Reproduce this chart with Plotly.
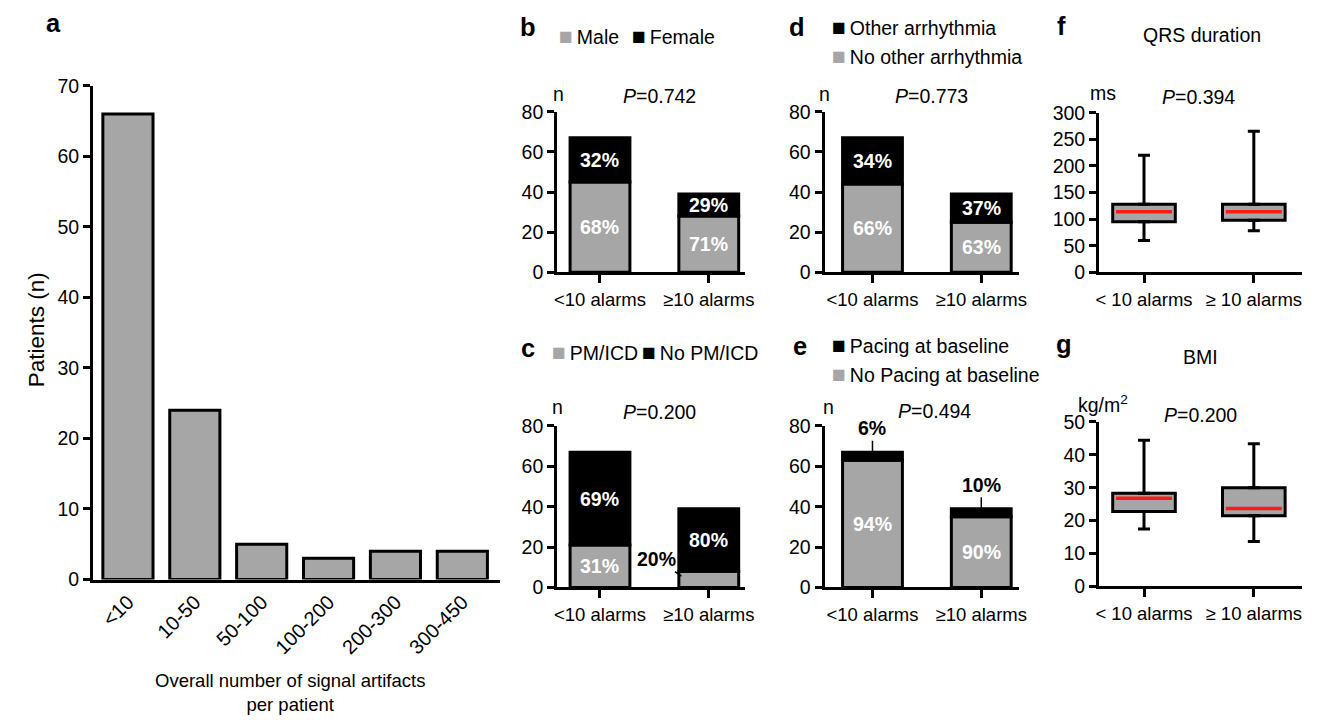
import plotly.graph_objects as go

W, H = 1320, 720
GRAY = '#a6a6a6'
RED = '#ff1a1a'
FONT = 'Liberation Sans, Arial, sans-serif'

# ---------------- data ----------------
a_cats = ['<10', '10-50', '50-100', '100-200', '200-300', '300-450']
a_vals = [66, 24, 5, 3, 4, 4]

groups = ['<10 alarms', '≥10 alarms']
b_male = [45, 28]
b_female = [22, 11]
b_male_pct = ['68%', '71%']
b_female_pct = ['32%', '29%']

c_pm = [21, 8]
c_nopm = [46, 31]
c_pm_pct = ['31%', '20%']
c_nopm_pct = ['69%', '80%']

d_noother = [44, 25]
d_other = [23, 14]
d_noother_pct = ['66%', '63%']
d_other_pct = ['34%', '37%']

e_nopace = [63, 35]
e_pace = [4, 4]
e_nopace_pct = ['94%', '90%']
e_pace_pct = ['6%', '10%']

box_groups = ['< 10 alarms', '≥ 10 alarms']
qrs_low = [60, 78]
qrs_q1 = [95, 98]
qrs_med = [114, 114]
qrs_q3 = [128, 128]
qrs_high = [220, 265]

bmi_low = [17.5, 13.7]
bmi_q1 = [22.8, 21.5]
bmi_med = [26.8, 23.7]
bmi_q3 = [28.3, 30.0]
bmi_high = [44.4, 43.4]

p_values = {'b': '0.742', 'c': '0.200', 'd': '0.773', 'e': '0.494', 'f': '0.394', 'g': '0.200'}

# layout positions below are given in target-picture pixels and mapped to paper fractions
OX, SX, OY, SY = 2.8, 0.9913, 10.0, 0.972


def px(x):
    return ((x - OX) / SX) / W


def py(y):
    return 1 - ((y - OY) / SY) / H


fig = go.Figure()

LINE = dict(color='black', width=3)

# panel a
fig.add_trace(go.Bar(x=a_cats, y=a_vals, width=0.75, marker=dict(color=GRAY, line=LINE),
                     xaxis='x', yaxis='y'))

# stacked panels (explicit base)
def stacked(axn, bottom, top, bcol, tcol, width=0.55):
    fig.add_trace(go.Bar(x=groups, y=bottom, width=width, marker=dict(color=bcol, line=LINE),
                         xaxis='x' + axn, yaxis='y' + axn))
    fig.add_trace(go.Bar(x=groups, y=top, base=bottom, width=width,
                         marker=dict(color=tcol, line=LINE),
                         xaxis='x' + axn, yaxis='y' + axn))

stacked('2', b_male, b_female, GRAY, 'black')
stacked('3', c_pm, c_nopm, GRAY, 'black')
stacked('4', d_noother, d_other, GRAY, 'black')
stacked('5', e_nopace, e_pace, GRAY, 'black')

# box panels
shapes = []
BW = 0.57

def boxpanel(axn, low, q1, med, q3, high):
    fig.add_trace(go.Bar(x=box_groups, y=[b - a for a, b in zip(q1, q3)], base=q1, width=BW,
                         marker=dict(color=GRAY, line=LINE),
                         xaxis='x' + axn, yaxis='y' + axn))
    fig.add_trace(go.Scatter(x=box_groups, y=q3, mode='markers',
                             marker=dict(size=1, color='rgba(0,0,0,0)'),
                             error_y=dict(type='data', symmetric=False,
                                          array=[h - q for h, q in zip(high, q3)],
                                          arrayminus=[0, 0], width=6, thickness=3, color='black'),
                             xaxis='x' + axn, yaxis='y' + axn))
    fig.add_trace(go.Scatter(x=box_groups, y=q1, mode='markers',
                             marker=dict(size=1, color='rgba(0,0,0,0)'),
                             error_y=dict(type='data', symmetric=False,
                                          array=[0, 0],
                                          arrayminus=[q - l for q, l in zip(q1, low)],
                                          width=6, thickness=3, color='black'),
                             xaxis='x' + axn, yaxis='y' + axn))
    for i, m in enumerate(med):
        shapes.append(dict(type='line', xref='x' + axn, yref='y' + axn,
                           x0=i - BW / 2 + 0.03, x1=i + BW / 2 - 0.03, y0=m, y1=m,
                           line=dict(color=RED, width=3.5)))

boxpanel('6', qrs_low, qrs_q1, qrs_med, qrs_q3, qrs_high)
boxpanel('7', bmi_low, bmi_q1, bmi_med, bmi_q3, bmi_high)

# ---------------- axes ----------------
def xax(d0, d1, r0, r1, anchor, ticks='outside', tickangle=0, size=18.5):
    return dict(domain=[px(d0), px(d1)], range=[r0, r1], type='category', anchor=anchor,
                showline=True, linecolor='black', linewidth=3, ticks=ticks, ticklen=8,
                tickwidth=3, tickcolor='black', showgrid=False, zeroline=False,
                tickangle=tickangle, tickfont=dict(size=size, color='black', family=FONT),
                fixedrange=True)


def yax(top, bottom, rng, dtick, anchor):
    return dict(domain=[py(bottom), py(top)], range=rng, dtick=dtick, anchor=anchor,
                showline=True, linecolor='black', linewidth=3, ticks='outside', ticklen=7,
                tickwidth=3, tickcolor='black', showgrid=False, zeroline=False,
                tickfont=dict(size=19.5, color='black', family=FONT), fixedrange=True)

layout = dict(
    width=W, height=H, margin=dict(l=0, r=0, t=0, b=0), autosize=False,
    paper_bgcolor='white', plot_bgcolor='white', showlegend=False, barmode='overlay',
    font=dict(family=FONT, color='black'),
    xaxis=xax(92, 500, -0.522, 5.567, 'y', ticks='', tickangle=-45, size=20),
    yaxis=yax(85, 580, [0, 70], 10, 'x'),
    xaxis2=xax(557, 745, -0.394, 1.331, 'y2'),
    yaxis2=yax(111, 272, [0, 80], 20, 'x2'),
    xaxis3=xax(557, 745, -0.394, 1.331, 'y3'),
    yaxis3=yax(426, 588, [0, 80], 20, 'x3'),
    xaxis4=xax(825, 1020, -0.44, 1.349, 'y4'),
    yaxis4=yax(111, 272, [0, 80], 20, 'x4'),
    xaxis5=xax(825, 1020, -0.44, 1.349, 'y5'),
    yaxis5=yax(426, 588, [0, 80], 20, 'x5'),
    xaxis6=xax(1100, 1303, -0.409, 1.436, 'y6'),
    yaxis6=yax(112, 272, [0, 300], 50, 'x6'),
    xaxis7=xax(1100, 1303, -0.409, 1.436, 'y7'),
    yaxis7=yax(422, 587, [0, 50], 10, 'x7'),
)
fig.update_layout(**layout)

# ---------------- annotations ----------------
anns = []

def txt(text, x, y, size=19.5, bold=False, xanchor='center', color='black', angle=0):
    if bold:
        text = '<b>' + text + '</b>'
    anns.append(dict(text=text, x=px(x), y=py(y), xref='paper', yref='paper',
                     xanchor=xanchor, yanchor='middle', showarrow=False, textangle=angle,
                     font=dict(size=size, color=color, family=FONT)))

# panel letters
for letter, x, y in [('a', 52, 22), ('b', 528, 26), ('c', 528, 348), ('d', 797, 26),
                     ('e', 800, 346), ('f', 1062, 25), ('g', 1065, 344)]:
    txt(letter, x, y, size=25.5, bold=True)

# legends
def leg(label, color, x, y):
    anns.append(dict(text="<span style='color:%s;font-size:23px'>■</span>\u2009%s" % (color, label),
                     x=px(x), y=py(y), xref='paper', yref='paper', xanchor='left',
                     yanchor='middle', showarrow=False,
                     font=dict(size=19.5, color='black', family=FONT)))

leg('Male', GRAY, 557, 35)
leg('Female', 'black', 630, 35)
leg('PM/ICD', GRAY, 550, 352)
leg('No PM/ICD', 'black', 640, 352)
leg('Other arrhythmia', 'black', 830, 26)
leg('No other arrhythmia', GRAY, 830, 55)
leg('Pacing at baseline', 'black', 830, 345)
leg('No Pacing at baseline', GRAY, 830, 374)

# units and p values
txt('n', 558, 93)
txt('n', 557, 407)
txt('n', 825, 93)
txt('n', 829, 407)
txt('ms', 1104, 92)
txt('kg/m<sup>2</sup>', 1104, 404)
for key, x, y in [('b', 660, 95), ('c', 660, 412), ('d', 932, 95), ('e', 935, 411),
                  ('f', 1200, 96), ('g', 1202, 415)]:
    txt('<i>P</i>=' + p_values[key], x, y)

txt('QRS duration', 1203, 34)
txt('BMI', 1202, 357)

txt('Patients (n)', 35, 330, size=22.5, angle=-90)

# x-axis title of panel a, kept inside the page bottom edge
anns.append(dict(text='Overall number of signal artifacts<br>per patient', x=px(289), y=-0.012,
                 xref='paper', yref='paper', xanchor='center', yanchor='bottom',
                 showarrow=False, font=dict(size=18.5, color='black', family=FONT)))

# percentage labels inside bars
def inside(axn, bottom, top, bpct, tpct, skip_bottom=(), skip_top=()):
    for i, g in enumerate(groups):
        if i not in skip_bottom:
            anns.append(dict(text='<b>%s</b>' % bpct[i], x=g, y=bottom[i] / 2,
                             xref='x' + axn, yref='y' + axn, showarrow=False,
                             font=dict(size=19.5, color='white', family=FONT)))
        if i not in skip_top:
            anns.append(dict(text='<b>%s</b>' % tpct[i], x=g, y=bottom[i] + top[i] / 2,
                             xref='x' + axn, yref='y' + axn, showarrow=False,
                             font=dict(size=19.5, color='white', family=FONT)))

inside('2', b_male, b_female, b_male_pct, b_female_pct)
inside('3', c_pm, c_nopm, c_pm_pct, c_nopm_pct, skip_bottom=(1,))
inside('4', d_noother, d_other, d_noother_pct, d_other_pct)
inside('5', e_nopace, e_pace, e_nopace_pct, e_pace_pct, skip_top=(0, 1))

# outside labels with leader lines
anns.append(dict(text='<b>%s</b>' % c_pm_pct[1], x=1 - 0.25, y=c_pm[1] * 0.7,
                 xref='x3', yref='y3', showarrow=True, arrowhead=0, arrowwidth=1.5,
                 arrowcolor='black', ax=-25, ay=-17, standoff=0,
                 font=dict(size=19.5, color='black', family=FONT)))
for i in range(2):
    anns.append(dict(text='<b>%s</b>' % e_pace_pct[i], x=groups[i], y=e_nopace[i] + e_pace[i],
                     xref='x5', yref='y5', showarrow=True, arrowhead=0, arrowwidth=1.5,
                     arrowcolor='black', ax=0, ay=-24, standoff=0,
                     font=dict(size=19.5, color='black', family=FONT)))

fig.update_layout(annotations=anns, shapes=shapes)

fig.write_html('out.html', config={'displayModeBar': False},
               post_script="document.body.style.margin='0';document.body.style.overflow='hidden';")
